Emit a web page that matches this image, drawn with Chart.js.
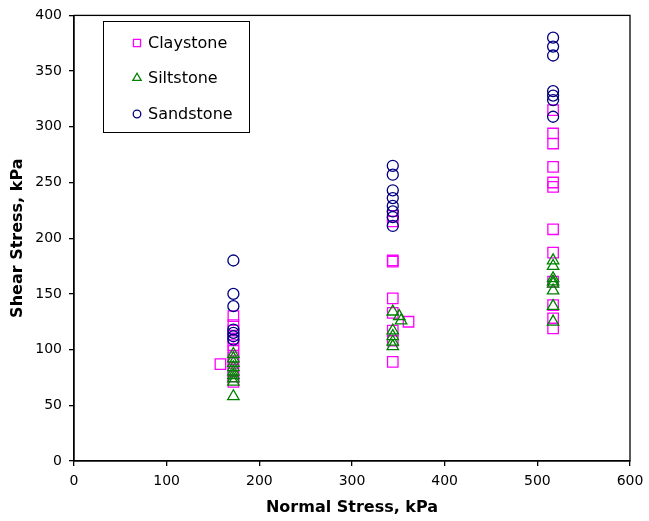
<!DOCTYPE html>
<html>
<head>
<meta charset="utf-8">
<script src="https://cdn.jsdelivr.net/npm/chart.js@4/dist/chart.umd.min.js"></script>
<style>
  html, body { margin:0; padding:0; background:#fff; }
  #wrap { width:649px; height:521px; }
</style>
</head>
<body>
<div id="wrap"><canvas id="chShear" width="649" height="521"></canvas></div>
<script>
// direct shear results: normal stress (kPa) vs shear stress (kPa) per rock type
var claystoneNormal = [158, 172, 172, 172, 172, 172, 172, 172, 172, 172, 172, 172,
  344, 344, 344, 344, 344, 344, 344, 344, 344, 361,
  517, 517, 517, 517, 517, 517, 517, 517, 517, 517, 517, 517];
var claystoneShear = [87, 130, 122, 117, 110, 104, 99, 93, 88, 82, 76, 71,
  220, 215, 180, 179, 146, 133, 117, 108, 89, 125,
  315, 294, 285, 264, 250, 246, 208, 187, 161, 140, 128, 119];

var siltstoneNormal = [172, 172, 172, 172, 172, 172, 172, 172, 172,
  344, 351, 353, 344, 344, 344, 344,
  517, 517, 517, 517, 517, 517, 517, 517];
var siltstoneShear = [96, 92, 88, 84, 80, 77, 74, 71, 58,
  134, 130, 126, 117, 112, 107, 103,
  180, 175, 164, 161, 159, 153, 139, 125];

var sandstoneNormal = [172, 172, 172, 172, 172, 172, 172,
  344, 344, 344, 344, 344, 344, 344, 344,
  517, 517, 517, 517, 517, 517, 517];
var sandstoneShear = [180, 150, 139, 118, 115, 112, 109,
  265, 257, 243, 236, 229, 224, 219, 211,
  380, 372, 364, 332, 328, 324, 309];

var xTicks = [0, 100, 200, 300, 400, 500, 600];
var yTicks = [0, 50, 100, 150, 200, 250, 300, 350, 400];

var FONT = "'DejaVu Sans', Verdana, sans-serif";

function pts(xs, ys){
  var out = [];
  for (var i = 0; i < xs.length; i++) out.push({x: xs[i], y: ys[i]});
  return out;
}

// black box round the plot area (Excel style frame)
var frame = {
  id: 'frame',
  afterDraw: function(chart){
    var a = chart.chartArea, ctx = chart.ctx;
    ctx.save();
    ctx.strokeStyle = '#000';
    ctx.lineWidth = 1.3;
    ctx.strokeRect(a.left, a.top, a.right - a.left, a.bottom - a.top);
    ctx.restore();
  }
};

// boxed legend sitting inside the plot, top left
var boxLegend = {
  id: 'boxLegend',
  afterDraw: function(chart){
    var ctx = chart.ctx;
    var bx = 103, by = 21, bw = 146, bh = 111;
    ctx.save();
    ctx.fillStyle = '#fff';
    ctx.fillRect(bx, by, bw, bh);
    ctx.strokeStyle = '#000';
    ctx.lineWidth = 1;
    ctx.strokeRect(bx + 0.5, by + 0.5, bw, bh);
    ctx.font = '16px ' + FONT;
    ctx.textBaseline = 'middle';
    var rows = [43, 78, 114];
    chart.data.datasets.forEach(function(ds, i){
      var cy = rows[i];
      var r = ds.pointStyle === 'circle' ? 3.8 : (ds.pointStyle === 'rect' ? 5 : 4.8);
      ctx.lineWidth = 1.3;
      ctx.strokeStyle = ds.borderColor;
      ctx.fillStyle = 'rgba(0,0,0,0)';
      Chart.helpers.drawPoint(ctx, {pointStyle: ds.pointStyle, rotation: 0, radius: r, borderWidth: 1.3}, 137, cy);
      ctx.fillStyle = '#000';
      ctx.fillText(ds.label, 148, cy + 1);
    });
    ctx.restore();
  }
};

function series(label, xs, ys, style, col, r, order){
  return {label: label, data: pts(xs, ys), pointStyle: style, pointRadius: r, pointHoverRadius: r,
    borderColor: col, backgroundColor: 'rgba(0,0,0,0)', pointBorderWidth: 1.3, showLine: false, order: order};
}

new Chart(document.getElementById('chShear').getContext('2d'), {
  type: 'scatter',
  data: {datasets: [
    series('Claystone', claystoneNormal, claystoneShear, 'rect', '#ff00ff', 7.4, 3),
    series('Siltstone', siltstoneNormal, siltstoneShear, 'triangle', '#008000', 6.6, 2),
    series('Sandstone', sandstoneNormal, sandstoneShear, 'circle', '#000080', 5.5, 1)
  ]},
  options: {
    responsive: false, animation: false, events: [],
    layout: {padding: {top: 15, right: 19, left: 0, bottom: 0}},
    plugins: {legend: {display: false}, tooltip: {enabled: false}},
    scales: {
      x: {
        type: 'linear', min: 0, max: 600,
        afterBuildTicks: function(s){ s.ticks = xTicks.map(function(v){ return {value: v}; }); },
        afterFit: function(s){ s.height = 60; s.paddingRight = 0; s.paddingLeft = 0; },
        grid: {drawOnChartArea: false, tickLength: 5, color: '#000', lineWidth: 1.3},
        border: {color: '#000', width: 1.3},
        ticks: {color: '#000', padding: 7, font: {family: FONT, size: 14}, maxRotation: 0},
        title: {display: true, text: 'Normal Stress, kPa', color: '#000', padding: {top: 4, bottom: 4},
          font: {family: FONT, size: 16, weight: 'bold'}}
      },
      y: {
        type: 'linear', min: 0, max: 400,
        afterBuildTicks: function(s){ s.ticks = yTicks.map(function(v){ return {value: v}; }); },
        afterFit: function(s){ s.width = 74; },
        grid: {drawOnChartArea: false, tickLength: 5, color: '#000', lineWidth: 1.3},
        border: {color: '#000', width: 1.3},
        ticks: {color: '#000', padding: 7, font: {family: FONT, size: 14}},
        title: {display: true, text: 'Shear Stress, kPa', color: '#000', padding: {top: 8, bottom: 4},
          font: {family: FONT, size: 16, weight: 'bold'}}
      }
    }
  },
  plugins: [frame, boxLegend]
});
</script>
</body>
</html>
